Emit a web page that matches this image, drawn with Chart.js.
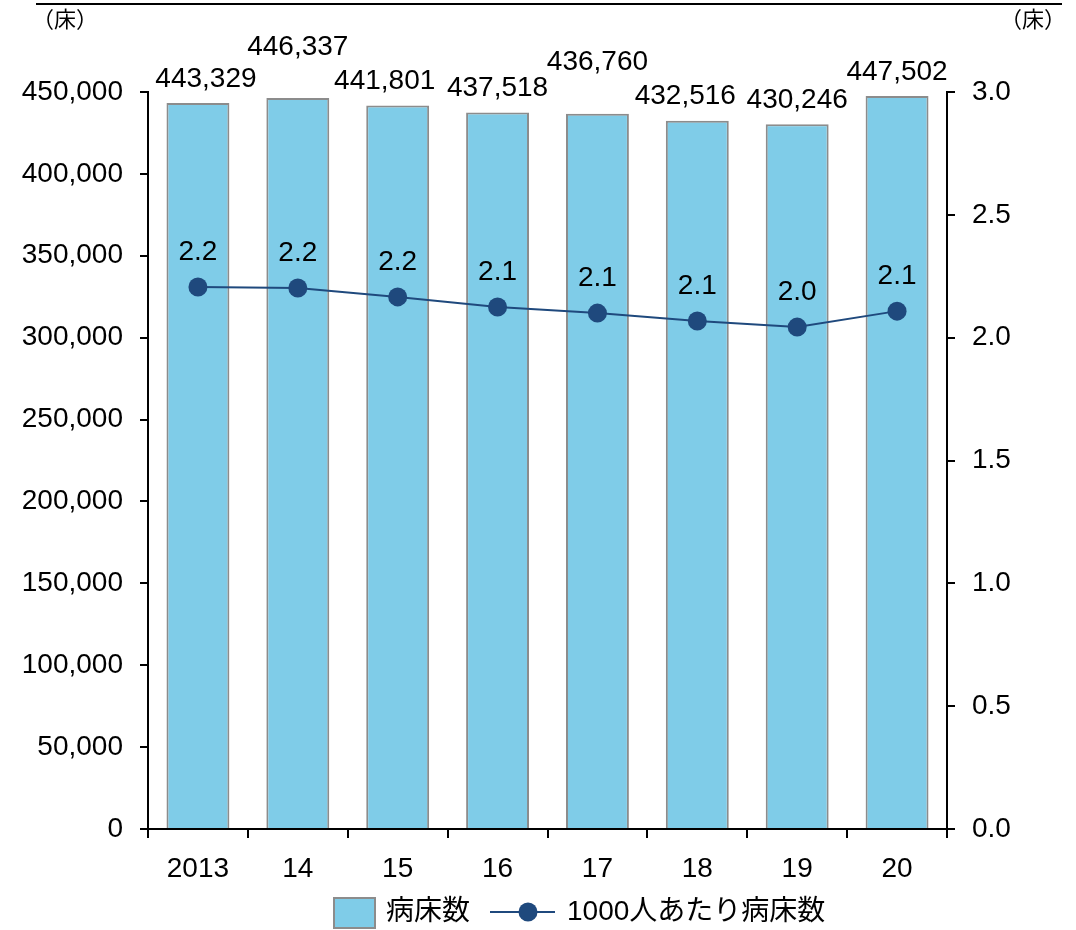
<!DOCTYPE html>
<html>
<head>
<meta charset="utf-8">
<script src="https://cdn.jsdelivr.net/npm/chart.js@4"></script>
<style>
html,body{margin:0;padding:0;background:#fff;}
#wrap{position:relative;width:1076px;height:930px;}
</style>
</head>
<body>
<div id="wrap"><canvas id="c" width="1076" height="930"></canvas></div>
<script>
const categories = ['2013','14','15','16','17','18','19','20'];
const bedCounts = [443329, 446337, 441801, 437518, 436760, 432516, 430246, 447502];
const bedsPer1000 = [2.206, 2.202, 2.166, 2.125, 2.100, 2.068, 2.043, 2.108];
const bedsPer1000Labels = ['2.2','2.2','2.2','2.1','2.1','2.1','2.0','2.1'];
const leftTicks = [0,50000,100000,150000,200000,250000,300000,350000,400000,450000];
const rightTicks = [0,0.5,1.0,1.5,2.0,2.5,3.0];
const seriesNames = ['病床数','1000人あたり病床数'];
const unitLabel = '（床）';

const FONT = '"Liberation Sans", Arial, "Noto Sans CJK JP", sans-serif';
const FS = 28;
const BAR_FILL = '#7FCCE8';
const BAR_BORDER = '#8C8C8C';
const LINE_COLOR = '#1F497D';

const extras = {
  id: 'extras',
  afterDatasetsDraw(chart, args, opts) {
    const ctx = chart.ctx;
    ctx.save();
    ctx.fillStyle = '#000';
    ctx.textAlign = 'center';
    ctx.textBaseline = 'middle';
    ctx.font = FS + 'px ' + FONT;
    const barMeta = chart.getDatasetMeta(1);
    barMeta.data.forEach((el, i) => {
      const lift = opts.barLabelLift[i] ? 51 : 24;
      ctx.fillText(bedCounts[i].toLocaleString('en-US'), el.x + opts.barLabelShift[i], el.y - lift);
    });
    const lineMeta = chart.getDatasetMeta(0);
    lineMeta.data.forEach((el, i) => {
      ctx.fillText(bedsPer1000Labels[i], el.x, el.y - 35);
    });
    ctx.restore();
  },
  afterDraw(chart) {
    const ctx = chart.ctx;
    ctx.save();
    ctx.strokeStyle = '#000';
    ctx.lineWidth = 2;
    ctx.beginPath();
    ctx.moveTo(36, 4);
    ctx.lineTo(1062, 4);
    ctx.stroke();
    ctx.fillStyle = '#000';
    ctx.font = '22px ' + FONT;
    ctx.textBaseline = 'middle';
    ctx.textAlign = 'left';
    ctx.fillText(unitLabel, 32, 21);
    ctx.textAlign = 'right';
    ctx.fillText(unitLabel, 1066, 21);
    const ly = 912;
    ctx.font = FS + 'px ' + FONT;
    ctx.textAlign = 'left';
    ctx.fillStyle = BAR_FILL;
    ctx.fillRect(334, 898, 41, 30);
    ctx.strokeStyle = BAR_BORDER;
    ctx.lineWidth = 2;
    ctx.strokeRect(334, 898, 41, 30);
    ctx.fillStyle = '#000';
    ctx.fillText(seriesNames[0], 386, ly);
    ctx.strokeStyle = LINE_COLOR;
    ctx.lineWidth = 2;
    ctx.beginPath();
    ctx.moveTo(490, ly);
    ctx.lineTo(555, ly);
    ctx.stroke();
    ctx.fillStyle = LINE_COLOR;
    ctx.beginPath();
    ctx.arc(528, ly, 9.5, 0, Math.PI * 2);
    ctx.fill();
    ctx.fillStyle = '#000';
    ctx.fillText(seriesNames[1], 567, ly);
    ctx.restore();
  }
};

new Chart(document.getElementById('c'), {
  data: {
    labels: categories,
    datasets: [
      {
        type: 'line',
        label: seriesNames[1],
        data: bedsPer1000,
        yAxisID: 'y2',
        borderColor: LINE_COLOR,
        backgroundColor: LINE_COLOR,
        borderWidth: 2,
        pointRadius: 9.5,
        pointHoverRadius: 9.5,
        pointBackgroundColor: LINE_COLOR,
        pointBorderWidth: 0,
        tension: 0,
        order: 0
      },
      {
        type: 'bar',
        label: seriesNames[0],
        data: bedCounts,
        yAxisID: 'y',
        backgroundColor: BAR_FILL,
        borderColor: BAR_BORDER,
        borderWidth: 2,
        barPercentage: 0.63,
        categoryPercentage: 1.0,
        order: 1
      }
    ]
  },
  options: {
    responsive: false,
    animation: false,
    layout: { padding: { top: 92, bottom: 0, left: 0, right: 0 } },
    plugins: {
      legend: { display: false },
      tooltip: { enabled: false },
      extras: {
        barLabelLift: [false, true, false, false, true, false, false, false],
        barLabelShift: [8, 0, -13, 0, 0, -12, 0, 0]
      }
    },
    scales: {
      x: {
        offset: true,
        grid: { display: true, offset: true, drawOnChartArea: false, tickLength: 9, color: '#000', lineWidth: 2 },
        border: { display: true, color: '#000', width: 2 },
        ticks: { color: '#000', font: { family: FONT, size: FS }, padding: 14, maxRotation: 0 },
        afterFit(s) { s.height = 101; }
      },
      y: {
        position: 'left',
        min: 0, max: 450000,
        afterBuildTicks(s) { s.ticks = leftTicks.map(v => ({ value: v })); },
        grid: { display: true, drawOnChartArea: false, tickLength: 8, color: '#000', lineWidth: 2 },
        border: { display: true, color: '#000', width: 2 },
        ticks: { color: '#000', font: { family: FONT, size: FS }, padding: 17,
          callback: v => v.toLocaleString('en-US') },
        afterFit(s) { s.width = 148; }
      },
      y2: {
        position: 'right',
        min: 0, max: 3,
        afterBuildTicks(s) { s.ticks = rightTicks.map(v => ({ value: v })); },
        grid: { display: true, drawOnChartArea: false, tickLength: 8, color: '#000', lineWidth: 2 },
        border: { display: true, color: '#000', width: 2 },
        ticks: { color: '#000', font: { family: FONT, size: FS }, padding: 17,
          callback: v => v.toFixed(1) },
        afterFit(s) { s.width = 129; }
      }
    }
  },
  plugins: [extras]
});
</script>
</body>
</html>
